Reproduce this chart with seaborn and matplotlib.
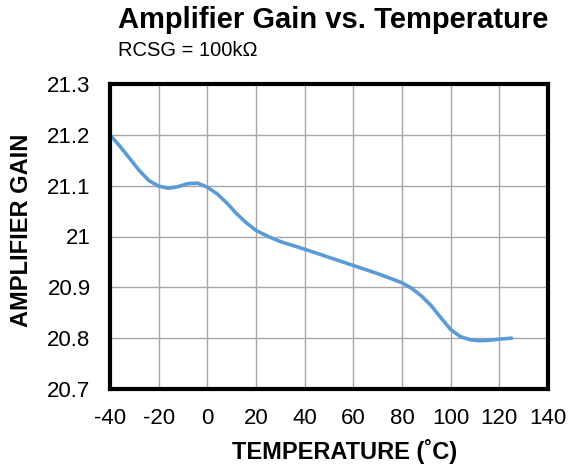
import matplotlib
matplotlib.use("Agg")
import matplotlib.pyplot as plt
import seaborn as sns
import pandas as pd

temperature = [-40, -36, -32, -28, -24, -20, -16, -12, -8, -4, 0, 4, 8, 12, 16, 20, 25, 30, 40, 50,
               60, 70, 80, 84, 88, 92, 96, 100, 104, 108, 112, 116, 120, 125]
gain = [21.200, 21.178, 21.154, 21.130, 21.110, 21.099, 21.095, 21.098, 21.104, 21.105, 21.097,
        21.084, 21.066, 21.045, 21.027, 21.012, 21.000, 20.990, 20.975, 20.959, 20.943, 20.927,
        20.909, 20.898, 20.883, 20.864, 20.840, 20.817, 20.803, 20.797, 20.795, 20.796, 20.798, 20.800]
x_ticks = [-40, -20, 0, 20, 40, 60, 80, 100, 120, 140]
y_ticks = [20.7, 20.8, 20.9, 21.0, 21.1, 21.2, 21.3]
y_tick_labels = ["20.7", "20.8", "20.9", "21", "21.1", "21.2", "21.3"]

sns.set_theme(style="whitegrid")
plt.rcParams['font.family'] = ['Liberation Sans', 'DejaVu Sans']
plt.rcParams['axes.unicode_minus'] = False

df = pd.DataFrame({"temperature": temperature, "gain": gain})

fig = plt.figure(figsize=(5.72, 4.66), dpi=100)
ax = fig.add_axes([110/572, 1 - 389/466, 438/572, 305/466])
sns.lineplot(data=df, x="temperature", y="gain", ax=ax, color="#5B9BD5", linewidth=2.6)

ax.set_xlim(-40, 140)
ax.set_ylim(20.7, 21.3)
ax.set_xticks(x_ticks)
ax.set_yticks(y_ticks)
ax.set_yticklabels(y_tick_labels)
ax.grid(True, color="#A6A6A6", linewidth=1.0)
for s in ax.spines.values():
    s.set_color("black")
    s.set_linewidth(3.0)
ax.tick_params(axis="both", length=0, labelsize=16, colors="black")
ax.tick_params(axis="y", pad=14)
ax.tick_params(axis="x", pad=14)
ax.set_xlabel("TEMPERATURE (˚C)", fontsize=17, fontweight="bold", color="black")
ax.set_ylabel("AMPLIFIER GAIN", fontsize=17, fontweight="bold", color="black")
ax.xaxis.set_label_coords((344.5 - 110) / 438, (389 - 451) / 305)
ax.yaxis.set_label_coords((22 - 110) / 438, (389 - 230) / 305)
ax.xaxis.label.set_va("center")
ax.yaxis.label.set_va("center")

fig.text(118/572, 1 - 20/466, "Amplifier Gain vs. Temperature", fontsize=21, fontweight="bold",
         ha="left", va="center", color="black")
fig.text(118/572, 1 - 50/466, "RCSG = 100kΩ", fontsize=14.5, ha="left", va="center", color="black")

fig.savefig("out.png", dpi=100)
